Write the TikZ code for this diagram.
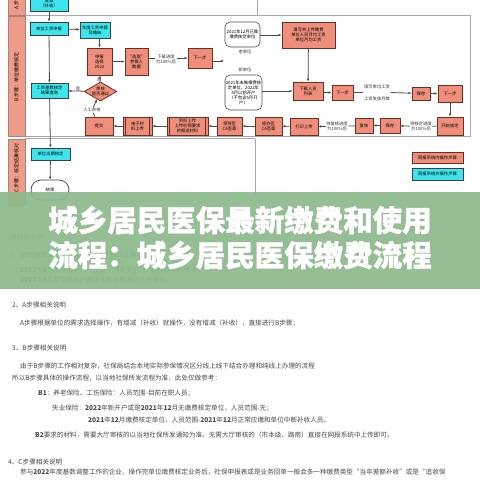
\documentclass[tikz,border=0pt]{standalone}
\usepackage{fontspec}
\setmainfont{Noto Sans CJK SC}
\newfontfamily\ttlfont{Noto Sans CJK SC}[BoldFeatures={FakeBold=1.2}]
\usetikzlibrary{shapes.geometric,arrows.meta}
\definecolor{cy}{HTML}{3DE6EE}
\definecolor{sal}{HTML}{EF8F7B}
\definecolor{salb}{HTML}{6E2E22}
\definecolor{lane}{HTML}{EE9B87}
\definecolor{band}{HTML}{8DBA8C}
\definecolor{doc}{HTML}{4A4A4A}
\definecolor{frame}{HTML}{A8A8A8}
\definecolor{wire}{HTML}{4E4E4E}
\tikzset{
  base/.style={font=\fontsize{4.3}{5}\selectfont, align=center, inner sep=0.5pt},
  cybox/.style={base, draw=black!75, fill=cy, line width=0.7pt},
  salbox/.style={base, draw=salb, fill=sal, line width=0.8pt},
  brbox/.style={base, draw=black!70, fill=white, rounded corners=5, line width=0.6pt},
  term/.style={base, draw=black!75, fill=white, rounded corners=10, line width=0.7pt},
  dia/.style={base, diamond, draw=salb, fill=sal, aspect=1.7, inner sep=0pt, line width=0.8pt},
  lbl/.style={base, text=black!80},
  arr/.style={-{Latex[length=3pt,width=2.6pt]}, line width=0.8pt, wire},
  ln/.style={line width=0.8pt, wire},
  doct/.style={anchor=west, inner sep=0, text=doc, font=\fontsize{6.6}{7}\selectfont},
  ttl/.style={text=white, font=\ttlfont\fontsize{29.5}{30}\selectfont\bfseries, inner sep=0},
}
\begin{document}
\begin{tikzpicture}[x=1pt,y=-1pt]
\useasboundingbox (0,0) rectangle (480,480);
\clip (0,0) rectangle (480,480);
\fill[white] (0,0) rectangle (480,480);
% frames
\draw[frame, line width=0.7pt] (25,15) -- (470,15) -- (470,136) -- (25,136);
\draw[frame, line width=0.7pt] (25,138.5) -- (255,138.5);
\draw[frame, line width=0.7pt] (257,-5) -- (257,15);
\draw[frame, line width=0.7pt] (255,138.5) -- (255,195);
% lane bar
\draw[salb!60, fill=lane, line width=0.5pt] (8,-5) rectangle (25,15);
\draw[salb!60, fill=lane, line width=0.5pt] (8,16) rectangle (25,136);
\draw[salb!60, fill=lane, line width=0.5pt] (8,139) rectangle (25,205);
\node[base, font=\fontsize{5}{6}\selectfont, rotate=90] (la) at (16.5,5) {A步};
\node[base, font=\fontsize{5}{6}\selectfont, rotate=90] (lb) at (16.5,77) {B步骤：单位缴费核定};
\node[base, font=\fontsize{5}{6}\selectfont, rotate=90] (lc) at (16.5,168) {C步骤：核定结果核对};
% A lane
\node[cybox, minimum width=38, minimum height=16] (a1) at (49,3) {增减\\（补收）};
% B lane
\node[cybox, minimum width=38, minimum height=13] (b1) at (49,28.5) {单位工资申报};
\node[cybox, minimum width=30, minimum height=16] (b2) at (95,30) {年度工资申报\\及缴纳};
\node[salbox, minimum width=25, minimum height=27] (b3) at (99.5,61.5) {申报\\选择\\2022};
\node[salbox, minimum width=23, minimum height=27] (b4) at (136.5,61.5) {“选取”\\参保人\\数据};
\node[salbox, minimum width=24, minimum height=20] (b5) at (200,58) {下一步};
\coordinate (b5e) at (224,61);
\node[lbl] (t1) at (166,59) {下载进度\\为100\%后};
\node[dia, minimum width=26, minimum height=16] (dg) at (100.5,91.5) {审核\\是否通过};
\node[cybox, minimum width=37, minimum height=15] (b6) at (49.5,90.5) {工资基数核定\\结果查询};
\node[lbl] (no1) at (99,79.5) {否};
\node[lbl] (no2) at (78,89) {是};
\node[lbl] (rg) at (92,110) {人工审核};
\node[salbox, minimum width=28, minimum height=18] (e9) at (99,126) {提交};
\node[salbox, minimum width=29, minimum height=18] (e8) at (137.5,126) {电子材\\料上传};
\node[salbox, minimum width=41, minimum height=18] (e7) at (187.5,126) {资料上传\\上传社保要求\\的报送材料};
\node[salbox, minimum width=25, minimum height=18] (e6) at (229.5,126) {领导签\\CA签章};
\node[salbox, minimum width=27, minimum height=18] (e5) at (268.5,126) {经办签\\CA签章};
\node[salbox, minimum width=28, minimum height=17] (e4) at (304,126.5) {打印上传};
\node[salbox, minimum width=18, minimum height=15] (e3) at (364,125.5) {复核};
\node[salbox, minimum width=20, minimum height=15] (e2) at (390,125.5) {保存};
\node[salbox, minimum width=26, minimum height=18] (e1) at (450,126) {开始核定};
\node[lbl] (t4) at (337,126.5) {待复核进度\\为100\%后};
\node[lbl] (t5) at (421,126.5) {待核定进度\\为100\%后};
\foreach \n in {e7,e8} {
  \draw[salb, line width=0.6pt] ([xshift=3]\n.north west) -- ([xshift=3]\n.south west);
  \draw[salb, line width=0.6pt] ([xshift=-3]\n.north east) -- ([xshift=-3]\n.south east);
}
\node[brbox, minimum width=35, minimum height=25] (c1) at (242.5,34.5) {2021年12月已做\\缴费核定单位};
\node[lbl] (old) at (245,52) {老单位};
\node[lbl] (new) at (245,70) {新单位};
\node[brbox, minimum width=37, minimum height=35] (c2) at (243.5,92.5) {2021年未做缴费核\\定单位，2022年\\5月以前开户\\（不包含5月开\\户）};
\node[salbox, minimum width=53, minimum height=26] (d1) at (308.5,35) {填写并上传缴费\\单位人员月均工资\\单位月均工资};
\node[salbox, minimum width=30, minimum height=18] (d2) at (308,91) {下载人员\\列表};
\node[salbox, minimum width=21, minimum height=15] (d3) at (342.5,92.5) {下一步};
\node[lbl] (t2) at (377,87) {填写单位工资};
\node[lbl] (t3) at (377,99) {工资发放月数};
\node[salbox, minimum width=18, minimum height=13] (d4) at (421,93.5) {保存};
\node[salbox, minimum width=24, minimum height=17] (d5) at (450,93.5) {下一步};
% C lane
\node[cybox, minimum width=39, minimum height=12] (f1) at (50.5,154) {单位当期核定};
\node[term, minimum width=38, minimum height=20] (f2) at (50,190) {结束};
% legend
\node[salbox, minimum width=51, minimum height=11] (lg1) at (437.5,157.5) {网报系统内操作步骤};
\node[cybox, minimum width=51, minimum height=12] (lg2) at (437.5,174) {网报系统外操作步骤};
% connectors
\draw[arr] (a1) -- (b1);
\draw[arr] (b1) -- (b2);
\draw[arr] (b1) -- (b6);
\draw[arr] (b6) -- (f1);
\draw[arr] (f1) -- (f2);
\draw[arr] (b2.south -| b3) -- (b3);
\draw[arr] (b3) -- (b4);
\draw[ln] (b4.east |- b5) -- (t1.west |- b5);
\draw[arr] (t1.east |- b5) -- (b5);
\draw[arr] (b5.east |- b5e) -- (b5e);
\draw[arr] (dg) -- (b3);
\draw[arr] (dg) -- (b6);
\draw[ln] (e9) -- (rg);
\draw[arr] (rg) -- (dg);
\draw[arr] (e8) -- (e9);
\draw[arr] (e7) -- (e8);
\draw[arr] (e6) -- (e7);
\draw[arr] (e5) -- (e6);
\draw[arr] (e4) -- (e5);
\draw[ln] (e3) -- (t4);
\draw[arr] (t4) -- (e4);
\draw[arr] (e2) -- (e3);
\draw[ln] (e1) -- (t5);
\draw[arr] (t5) -- (e2);
\draw[arr] (d5) -- (e1);
\draw[arr] (d4) -- (d5);
\draw[ln] (d3.east) -- (t2.west |- d3);
\draw[arr] (t2.east |- d3) -- (d4);
\draw[arr] (d2.east |- d3) -- (d3);
\draw[arr] (d1) -- (d2);
\draw[arr] (c1.east |- d1) -- (d1);
\draw[arr] (c2.east |- d2) -- (d2);
% document text under the band
\node[doct] (p0) at (10,237) {流程图说明：};
\node[doct] (p1) at (10,255) {1、如何确定单位是否需要进行A步骤的业务操作：};
\node[doct] (p2) at (20,270) {\textbf{2022}年\textbf{8}月及以前开户的企业，均需要进行A步骤的业务操作；};
\node[doct] (p3) at (20,280) {\textbf{2022}年\textbf{9}月及以后开户的企业的无需进行上述操作。};
% band
\fill[band, opacity=0.93] (0,192) rectangle (480,289);
\node[ttl] (h1) at (240,220) {城乡居民医保最新缴费和使用};
\node[ttl] (h2) at (240,255) {流程：城乡居民医保缴费流程};
% document text below
\node[doct] (q1) at (12,305) {2、A步骤相关说明};
\node[doct] (q2) at (20,323) {A步骤根据单位的需求选择操作，有增减（补收）就操作，没有增减（补收），直接进行B步骤；};
\node[doct] (q3) at (12,348) {3、B步骤相关说明};
\node[doct] (q4) at (20,366) {由于B步骤的工作相对复杂，社保局结合本地实际参保情况区分线上线下结合办理和纯线上办理的流程};
\node[doct] (q5) at (12,378) {所以B步骤具体的操作流程，以当地社保所发流程为准，此处仅做参考：};
\node[doct] (q6) at (38,393) {\textbf{B1}：养老保险、工伤保险：人员范围-目前在职人员；};
\node[doct] (q7) at (52,408) {失业保险：\textbf{2022}年新开户或是\textbf{2021}年\textbf{12}月无缴费核定单位，人员范围-无；};
\node[doct] (q8) at (88,420) {\textbf{2021}年\textbf{12}月缴费核定单位，人员范围-\textbf{2021}年\textbf{12}月正常应缴和单位中断补收人员。};
\node[doct] (q9) at (35,435) {\textbf{B2}要求的材料，需要大厅审核的以当地社保所发通知为准，无需大厅审核的（市本级、路南）直接在网报系统中上传即可。};
\node[doct] (q10) at (8,462) {4、C步骤相关说明};
\node[doct] (q11) at (20,472) {参与\textbf{2022}年度基数调整工作的企业，操作完单位缴费核定业务后，社保申报表或是业务回单一般会多一种缴费类型“当年差额补收”或是“追收保};
\end{tikzpicture}
\end{document}
